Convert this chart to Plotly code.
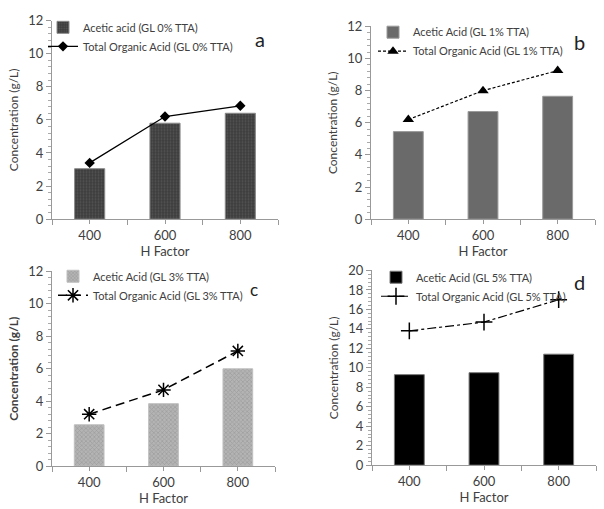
import plotly.graph_objects as go

h_factor = ["400", "600", "800"]
pos = [0, 1, 2]

acetic_a = [3.05, 5.8, 6.4]
total_a = [3.4, 6.2, 6.85]
acetic_b = [5.45, 6.7, 7.65]
total_b = [6.2, 8.0, 9.25]
acetic_c = [2.55, 3.85, 6.0]
total_c = [3.2, 4.7, 7.1]
acetic_d = [9.3, 9.5, 11.4]
total_d = [13.8, 14.7, 17.0]

W, H = 604, 509
FONT = "Lato"
TXT = "#404040"

fig = go.Figure()

panels = [
    dict(ax="", bar=acetic_a, line=total_a, leg="legend",
         bname="Acetic acid (GL 0% TTA)", lname="Total Organic Acid (GL 0% TTA)",
         bar_marker=dict(color="#3c3c3c", line=dict(color="#8a8a8a", width=1),
                         pattern=dict(shape=".", fgcolor="#6e6e6e", bgcolor="#3c3c3c", size=3, solidity=0.35)),
         line_style=dict(color="black", width=1.3, dash="solid"),
         mk=dict(symbol="diamond", size=8, color="black")),
    dict(ax="2", bar=acetic_b, line=total_b, leg="legend2",
         bname="Acetic Acid (GL 1% TTA)", lname="Total Organic Acid (GL 1% TTA)",
         bar_marker=dict(color="#6a6a6a", line=dict(color="#9a9a9a", width=1)),
         line_style=dict(color="black", width=1.2, dash="3px,2px"),
         mk=dict(symbol="triangle-up", size=10, color="black")),
    dict(ax="3", bar=acetic_c, line=total_c, leg="legend3",
         bname="Acetic Acid (GL 3% TTA)", lname="Total Organic Acid (GL 3% TTA)",
         bar_marker=dict(color="#a8a8a8", line=dict(color="#c0c0c0", width=1),
                         pattern=dict(shape="x", fgcolor="#858585", bgcolor="#b4b4b4", size=3, solidity=0.4)),
         line_style=dict(color="black", width=1.5, dash="9px,5px"),
         mk=dict(symbol="asterisk-open", size=12, color="black", line=dict(width=1.5, color="black"))),
    dict(ax="4", bar=acetic_d, line=total_d, leg="legend4",
         bname="Acetic Acid (GL 5% TTA)", lname="Total Organic Acid (GL 5% TTA)",
         bar_marker=dict(color="black", line=dict(color="#777", width=1)),
         line_style=dict(color="black", width=1.2, dash="dashdot"),
         mk=dict(symbol="cross-thin-open", size=12, color="black", line=dict(width=1.5, color="black"))),
]

for p in panels:
    fig.add_trace(go.Bar(x=pos, y=p["bar"], width=0.4, name=p["bname"], marker=p["bar_marker"],
                         xaxis="x" + p["ax"], yaxis="y" + p["ax"], legend=p["leg"]))
    fig.add_trace(go.Scatter(x=pos, y=p["line"], mode="lines+markers", name=p["lname"],
                             line=p["line_style"], marker=p["mk"],
                             xaxis="x" + p["ax"], yaxis="y" + p["ax"], legend=p["leg"]))

def px_dom(a, b, total):
    return [a / total, b / total]

def ydom(bottom, top):
    return [1 - bottom / H, 1 - top / H]

boxes = {
    "": (52, 278, 218, 13, 12),
    "2": (371, 595, 218, 19, 12),
    "3": (52, 275, 473, 272, 12),
    "4": (372, 596, 472, 271, 20),
}

for ax, (x0, x1, yb, yt, ymax) in boxes.items():
    xk = "xaxis" + ax
    yk = "yaxis" + ax
    bold = ax == "3"
    fig.update_layout(**{
        xk: dict(domain=px_dom(x0, x1, W), anchor="y" + ax, range=[-0.5, 2.5],
                 tickmode="array", tickvals=pos, ticktext=h_factor,
                 ticks="outside", ticklen=4, tickcolor="#999",
                 showline=True, linecolor="#999", linewidth=1, showgrid=False, zeroline=False,
                 minor=dict(tick0=0.5, dtick=1, ticks="outside", ticklen=5, tickcolor="#999"),
                 tickfont=dict(family=FONT, size=13, color=TXT),
                 title=dict(text="H Factor", font=dict(family=FONT, size=13, color=TXT), standoff=3)),
        yk: dict(domain=ydom(yb, yt), anchor="x" + ax, range=[0, ymax], dtick=2,
                 ticks="outside", ticklen=5, tickcolor="#999",
                 showline=True, linecolor="#999", linewidth=1, showgrid=False, zeroline=False,
                 minor=dict(dtick=0.4, ticks="outside", ticklen=3, tickcolor="#aaa"),
                 tickfont=dict(family=FONT, size=13, color=TXT),
                 title=dict(text="<b>Concentration (g/L)</b>" if bold else "Concentration (g/L)",
                            font=dict(family=FONT, size=12, color=TXT), standoff=7)),
    })

leg_common = dict(bgcolor="rgba(0,0,0,0)", font=dict(family=FONT, size=11, color=TXT),
                  tracegroupgap=0, itemwidth=30, xanchor="left", yanchor="top")
fig.update_layout(
    legend=dict(x=43 / W, y=1 - 5 / H, **leg_common),
    legend2=dict(x=373 / W, y=1 - 10 / H, **leg_common),
    legend3=dict(x=53 / W, y=1 - 262 / H, **leg_common),
    legend4=dict(x=376 / W, y=1 - 263 / H, **leg_common),
)

labels = [("a", 260, 32, 20), ("b", 579, 35, 20), ("c", 254, 291, 17), ("d", 579, 283, 20)]
for t, x, y, s in labels:
    fig.add_annotation(text=t, x=x / W, y=1 - y / H, xref="paper", yref="paper",
                       showarrow=False, font=dict(family=FONT, size=s, color="#222"),
                       xanchor="center", yanchor="middle")

fig.update_layout(width=W, height=H, margin=dict(l=0, r=0, t=0, b=0),
                  paper_bgcolor="white", plot_bgcolor="white", showlegend=True,
                  bargap=0.6)

fig.write_html("out.html")
